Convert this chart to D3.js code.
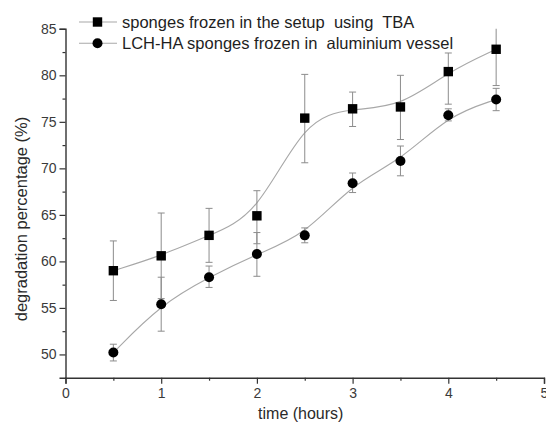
<!DOCTYPE html>
<html>
<head>
<meta charset="utf-8">
<script src="https://cdn.jsdelivr.net/npm/d3@7"></script>
<style>
  body { margin: 0; background: #fff; }
  svg { font-family: "Liberation Sans", Arial, sans-serif; }
</style>
</head>
<body>
<div id="chart"></div>
<script>
// values
const times = [0.5, 1, 1.5, 2, 2.5, 3, 3.5, 4, 4.5]

const tbaValues = [59.0, 60.6, 62.8, 64.9, 75.4, 76.4, 76.6, 80.4, 82.8]
const tbaErrUp  = [3.2, 4.6, 2.9, 2.7, 4.7, 1.8, 3.4, 2.0, 3.9]
const tbaErrDown = [3.2, 4.6, 2.9, 3.0, 4.8, 1.9, 3.5, 3.5, 3.9]

const alValues = [50.2, 55.4, 58.3, 60.8, 62.8, 68.4, 70.8, 75.7, 77.4]
const alErrUp  = [0.9, 2.9, 1.2, 2.3, 0.8, 1.1, 1.6, 0.7, 1.2]
const alErrDown = [0.9, 2.9, 1.1, 2.4, 0.8, 1.0, 1.6, 0.6, 1.2]

const seriesNames = ["sponges frozen in the setup  using  TBA",
                     "LCH-HA sponges frozen in  aluminium vessel"]

const xTicks = [0, 1, 2, 3, 4, 5]
const xMinor = [0.5, 1.5, 2.5, 3.5, 4.5]
const yTicks = [50, 55, 60, 65, 70, 75, 80, 85]
const yMinor = [52.5, 57.5, 62.5, 67.5, 72.5, 77.5, 82.5]

const W = 546, H = 431

const svg = d3.select("#chart").append("svg")
  .attr("width", W)
  .attr("height", H)

const x = d3.scaleLinear().domain([0, 5]).range([65.5, 544])
const y = d3.scaleLinear().domain([47.5, 85]).range([377.7, 28.8])

// clip so error bars stop at the top of the axis
svg.append("defs").append("clipPath")
  .attr("id", "plotclip")
  .append("rect")
  .attr("x", x(0)).attr("y", y(85))
  .attr("width", x(5) - x(0)).attr("height", y(47.5) - y(85))

const series = [
  { name: seriesNames[0], values: tbaValues, up: tbaErrUp, down: tbaErrDown, shape: "square" },
  { name: seriesNames[1], values: alValues, up: alErrUp, down: alErrDown, shape: "circle" }
]

const plot = svg.append("g").attr("clip-path", "url(#plotclip)")

// smoothed lines (B-spline, like the original)
const line = d3.line()
  .x(d => x(d[0]))
  .y(d => y(d[1]))
  .curve(d3.curveBasis)

series.forEach(s => {
  const pts = times.map((t, i) => [t, s.values[i]])
  plot.append("path")
    .attr("d", line(pts))
    .attr("fill", "none")
    .attr("stroke", "#a8a8a8")
    .attr("stroke-width", 1.1)
})

// error bars
const cap = 3.5
series.forEach(s => {
  times.forEach((t, i) => {
    const hi = y(s.values[i] + s.up[i])
    const lo = y(s.values[i] - s.down[i])
    const g = plot.append("g")
      .attr("stroke", "#8c8c8c")
      .attr("stroke-width", 1)
    g.append("line").attr("x1", x(t)).attr("x2", x(t)).attr("y1", hi).attr("y2", lo)
    g.append("line").attr("x1", x(t) - cap).attr("x2", x(t) + cap).attr("y1", hi).attr("y2", hi)
    g.append("line").attr("x1", x(t) - cap).attr("x2", x(t) + cap).attr("y1", lo).attr("y2", lo)
  })
})

function drawMarker(g, shape, cx, cy) {
  if (shape === "square") {
    g.append("rect")
      .attr("x", cx - 4.7).attr("y", cy - 4.7)
      .attr("width", 9.4).attr("height", 9.4)
      .attr("fill", "#000")
  } else {
    g.append("circle")
      .attr("cx", cx).attr("cy", cy).attr("r", 5)
      .attr("fill", "#000")
  }
}

const markers = svg.append("g")
series.forEach(s => {
  times.forEach((t, i) => drawMarker(markers, s.shape, x(t), y(s.values[i])))
})

// axes
const axisColor = "#333"

svg.append("g")
  .attr("transform", `translate(0, ${y(47.5)})`)
  .call(d3.axisBottom(x).tickValues(xTicks).tickSize(6).tickPadding(4).tickFormat(d3.format("d")))
svg.append("g")
  .attr("transform", `translate(0, ${y(47.5)})`)
  .call(d3.axisBottom(x).tickValues(xMinor).tickSize(3).tickFormat(""))
  .call(g => g.select(".domain").remove())

svg.append("g")
  .attr("transform", `translate(${x(0)}, 0)`)
  .call(d3.axisLeft(y).tickValues(yTicks).tickSize(6).tickPadding(3).tickFormat(d3.format("d")))
svg.append("g")
  .attr("transform", `translate(${x(0)}, 0)`)
  .call(d3.axisLeft(y).tickValues(yMinor).tickSize(3).tickFormat(""))
  .call(g => g.select(".domain").remove())

svg.selectAll(".domain")
  .attr("stroke", axisColor)
  .attr("stroke-width", 1.4)
svg.selectAll(".tick line").attr("stroke", axisColor).attr("stroke-width", 1.2)
svg.selectAll(".tick text")
  .attr("fill", "#3a3a3a")
  .style("font-size", "14px")
  .style("font-family", "'Liberation Sans', Arial, sans-serif")

// axis titles
svg.append("text")
  .attr("x", (x(0) + x(5)) / 2 - 4)
  .attr("y", 419)
  .attr("text-anchor", "middle")
  .attr("fill", "#2a2a2a")
  .style("font-size", "16px")
  .text("time (hours)")

svg.append("text")
  .attr("transform", `translate(27, 219) rotate(-90)`)
  .attr("text-anchor", "middle")
  .attr("fill", "#2a2a2a")
  .style("font-size", "16.5px")
  .text("degradation percentage (%)")

// legend
const legendY = [22, 43.3]
series.forEach((s, i) => {
  const lg = svg.append("g")
  lg.append("line")
    .attr("x1", 79).attr("x2", 117)
    .attr("y1", legendY[i]).attr("y2", legendY[i])
    .attr("stroke", "#a8a8a8").attr("stroke-width", 1.1)
  drawMarker(lg, s.shape, 97.5, legendY[i])
  lg.append("text")
    .attr("x", 122)
    .attr("y", legendY[i])
    .attr("dy", "0.35em")
    .attr("fill", "#1e1e1e")
    .style("font-size", "16.5px")
    .style("white-space", "pre")
    .text(s.name)
})
</script>
</body>
</html>
